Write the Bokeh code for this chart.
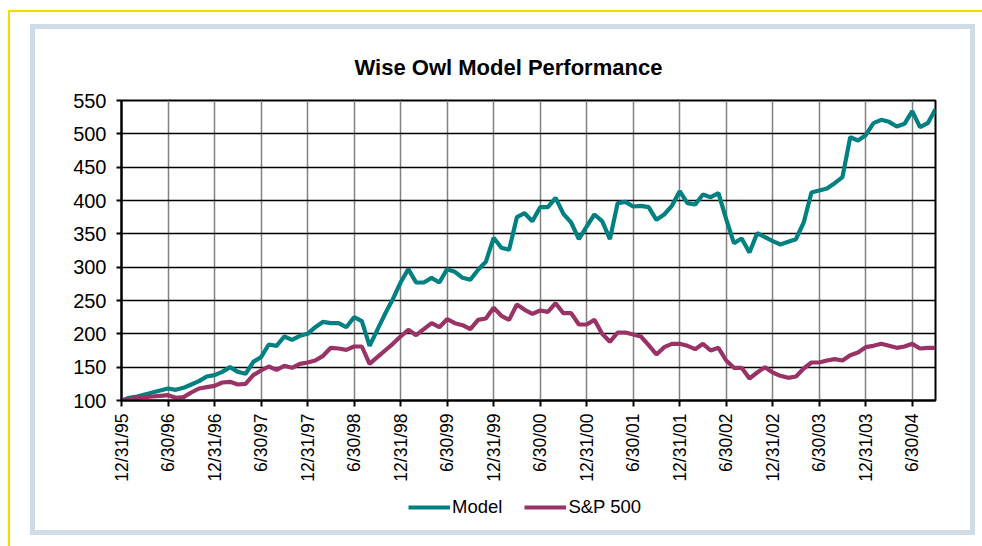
import math
from bokeh.plotting import figure
from bokeh.layouts import column
from bokeh.models import (FixedTicker, Legend, LegendItem, Range1d, ColumnDataSource)
from bokeh.embed import file_html
from bokeh.resources import INLINE

# Monthly index values, 12/31/95 = 100
model = [100, 104, 106, 109, 112, 115, 118, 116, 119, 124, 129, 136,
         138, 143, 150, 143, 140, 158, 165, 184, 182, 196, 191, 197,
         200, 210, 218, 216, 216, 210, 225, 219, 182, 206, 230, 252,
         277, 297, 277, 277, 284, 277, 297, 293, 284, 281, 296, 308,
         344, 329, 326, 375, 381, 369, 390, 390, 404, 380, 367, 342,
         361, 379, 369, 342, 396, 398, 391, 392, 390, 371, 379, 392,
         414, 396, 394, 409, 405, 411, 372, 336, 343, 322, 351, 345,
         339, 334, 338, 342, 367, 412, 415, 418, 426, 435, 495, 490,
         498, 516, 521, 518, 511, 515, 534, 510, 516, 537]
sp500 = [100, 102, 104, 105, 106, 107, 108, 104, 105, 112, 118, 120,
         122, 127, 128, 124, 125, 138, 145, 151, 146, 152, 149, 155,
         157, 160, 167, 179, 178, 176, 181, 181, 155, 165, 175, 185,
         196, 206, 198, 207, 216, 210, 222, 216, 213, 207, 221, 223,
         239, 227, 221, 244, 236, 230, 235, 233, 246, 231, 231, 214,
         214, 221, 200, 188, 202, 202, 199, 196, 183, 169, 180, 185,
         185, 182, 177, 185, 175, 179, 160, 149, 149, 133, 142, 150,
         142, 137, 134, 136, 148, 157, 157, 160, 162, 160, 168, 172,
         180, 182, 185, 182, 179, 181, 185, 178, 179, 179]
tick_labels = ["12/31/95", "6/30/96", "12/31/96", "6/30/97", "12/31/97",
               "6/30/98", "12/31/98", "6/30/99", "12/31/99", "6/30/00",
               "12/31/00", "6/30/01", "12/31/01", "6/30/02", "12/31/02",
               "6/30/03", "12/31/03", "6/30/04"]
y_ticks = [100, 150, 200, 250, 300, 350, 400, 450, 500, 550]
series_names = ["Model", "S&P 500"]
title_text = "Wise Owl Model Performance"

months = list(range(len(model)))
x_ticks = [6 * i for i in range(len(tick_labels))]
src = ColumnDataSource(dict(m=months, model=model, sp=sp500))

FONT = "Liberation Sans"
TEAL = "#008080"
PLUM = "#993366"
YEL = "#eedc00"
BLU = "#cfdbe6"
LW = 4.2

p = figure(width=935, height=457, output_backend="svg", toolbar_location=None,
           x_range=Range1d(0, len(model) - 1), y_range=Range1d(100, 550),
           min_border_left=86, min_border_right=35, min_border_top=71,
           min_border_bottom=86)
p.background_fill_color = "white"
p.border_fill_color = "white"
p.outline_line_color = "black"
p.outline_line_width = 2

p.line("m", "model", source=src, line_color=TEAL, line_width=LW)
p.line("m", "sp", source=src, line_color=PLUM, line_width=LW)

# title
p.title.text = title_text
p.title.text_font = FONT
p.title.text_font_style = "bold"
p.title.text_font_size = "22px"
p.title.text_color = "black"
p.title.align = "left"
p.title.offset = 233
p.title.standoff = 42

# axes
p.xaxis.ticker = FixedTicker(ticks=x_ticks)
p.xaxis.major_label_overrides = {t: lab for t, lab in zip(x_ticks, tick_labels)}
p.xaxis.major_label_orientation = math.pi / 2
p.xaxis.major_label_text_font = FONT
p.xaxis.major_label_text_font_size = "17.5px"
p.xaxis.major_label_text_color = "black"
p.xaxis.major_label_standoff = 7
p.xaxis.major_tick_out = 6
p.xaxis.major_tick_in = 0
p.xaxis.minor_tick_line_color = None
p.xaxis.axis_line_width = 2
p.xaxis.major_tick_line_width = 2

p.yaxis.ticker = FixedTicker(ticks=y_ticks)
p.yaxis.major_label_text_font = FONT
p.yaxis.major_label_text_font_size = "20px"
p.yaxis.major_label_text_color = "black"
p.yaxis.major_label_standoff = 10
p.yaxis.major_tick_out = 5
p.yaxis.major_tick_in = 0
p.yaxis.minor_tick_line_color = None
p.yaxis.axis_line_width = 2
p.yaxis.major_tick_line_width = 2

p.xgrid.grid_line_color = "#808080"
p.xgrid.grid_line_width = 1.5
p.ygrid.grid_line_color = "black"
p.ygrid.grid_line_width = 1.5

# legend strip under the chart (series drawn out of its visible range,
# only their legend samples show)
pl = figure(width=935, height=44, output_backend="svg", toolbar_location=None,
            x_range=Range1d(0, 1), y_range=Range1d(0, 1), min_border=0)
pl.outline_line_color = None
pl.axis.visible = False
pl.grid.visible = False
pl.background_fill_color = "white"
pl.border_fill_color = "white"
k1 = pl.line("m", "model", source=src, line_color=TEAL, line_width=LW)
k2 = pl.line("m", "sp", source=src, line_color=PLUM, line_width=LW)
legend = Legend(items=[LegendItem(label=series_names[0], renderers=[k1]),
                       LegendItem(label=series_names[1], renderers=[k2])],
                orientation="horizontal", location=(287, 12))
legend.label_text_font = FONT
legend.label_text_font_size = "18.5px"
legend.label_text_color = "black"
legend.glyph_width = 42
legend.glyph_height = 20
legend.label_standoff = 2
legend.spacing = 22
legend.padding = 0
legend.margin = 0
legend.border_line_color = None
legend.background_fill_alpha = 0
pl.add_layout(legend, "center")

inner = column(p, pl, styles={"border": f"5px solid {BLU}"})
outer = column(inner, styles={
    "margin-left": "8px", "margin-top": "10px",
    "border-top": f"2px solid {YEL}", "border-left": f"2px solid {YEL}",
    "padding-left": "20px", "padding-top": "12px",
    "padding-right": "7px", "padding-bottom": "11px"})

open("out.html", "w").write(file_html(outer, INLINE))
